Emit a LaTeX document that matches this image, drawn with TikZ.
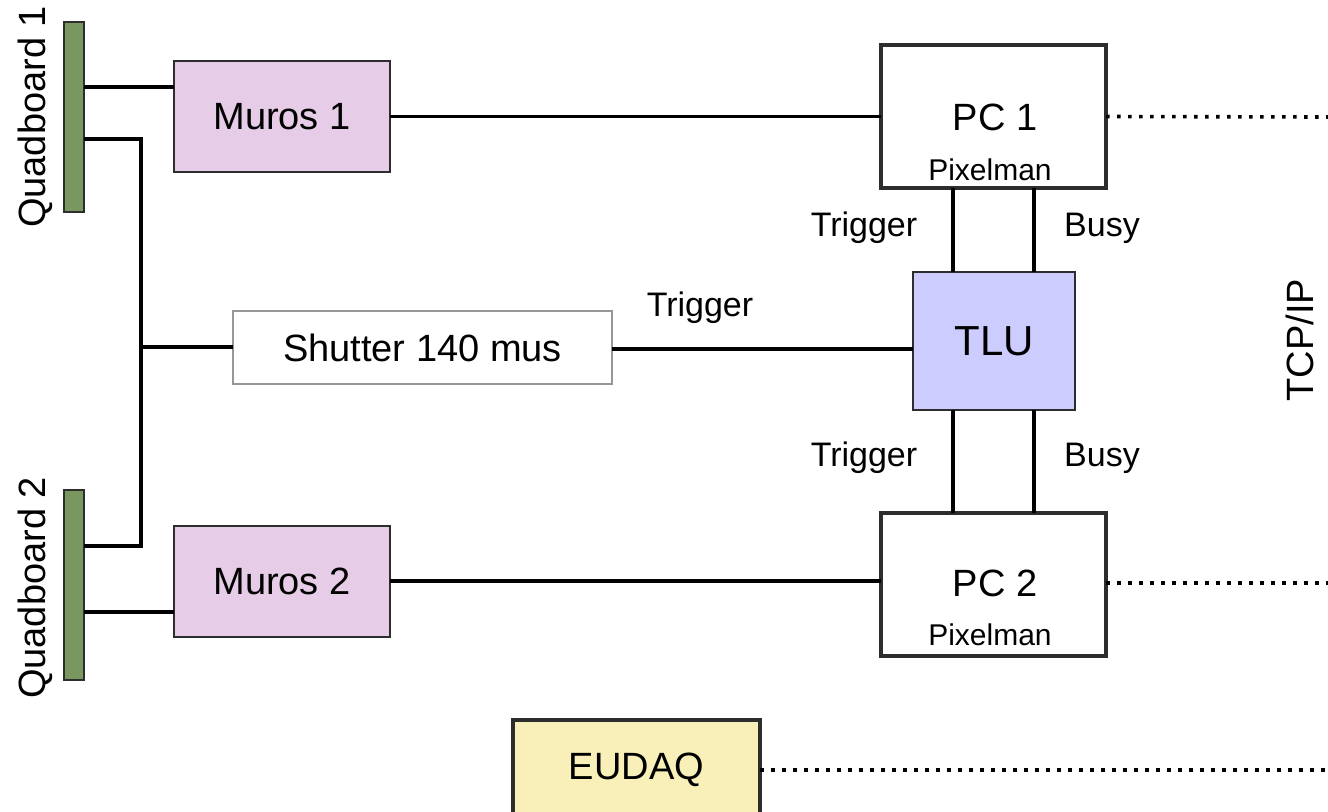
\documentclass[tikz,border=0pt]{standalone}
\usepackage{fontspec}
\setmainfont{Liberation Sans}
\begin{document}
\definecolor{qgreen}{RGB}{120,152,95}
\definecolor{murosfill}{RGB}{230,204,230}
\definecolor{tlufill}{RGB}{204,204,255}
\definecolor{eudaqfill}{RGB}{248,240,184}
\definecolor{dark}{RGB}{45,45,45}
\definecolor{lightborder}{RGB}{150,150,150}
\begin{tikzpicture}[x=0.5pt,y=-0.5pt,
  every node/.style={inner sep=0pt,outer sep=0pt},
  big/.style={font=\fontsize{19}{22}\selectfont},
  lbl/.style={font=\fontsize{17}{20}\selectfont},
  small/.style={font=\fontsize{15}{18}\selectfont},
  qboard/.style={draw=dark,line width=1pt,fill=qgreen,minimum width=10pt,minimum height=95pt},
  murosbox/.style={draw=dark,line width=1pt,fill=murosfill,minimum width=108pt,minimum height=55.5pt,big},
  pcbox/.style={draw=dark,line width=2pt,fill=white,minimum width=112.5pt,minimum height=71.5pt},
  tlubox/.style={draw=dark,line width=1.2pt,fill=tlufill,minimum width=81pt,minimum height=69pt,big,font=\fontsize{21}{24}\selectfont},
  shutterbox/.style={draw=lightborder,line width=0.8pt,fill=white,minimum width=189.5pt,minimum height=36.5pt,big},
  eudaqbox/.style={draw=dark,line width=2pt,fill=eudaqfill,minimum width=123.5pt,minimum height=50pt,big},
  wire/.style={line width=1.7pt,black},
  net/.style={line width=1.8pt,black,dash pattern=on 1.8pt off 3.7pt}
]
\useasboundingbox (0,0) rectangle (1328,811);

% quadboards
\node[qboard] (q1) at (74,117) {};
\node[qboard] (q2) at (74,585) {};
\node[big,rotate=90] (q1l) at (35,117) {Quadboard 1};
\node[big,rotate=90] (q2l) at (35,588) {Quadboard 2};

% boxes
\node[murosbox] (m1) at (282,116.5) {Muros 1};
\node[murosbox] (m2) at (282,581) {Muros 2};
\node[shutterbox] (sh) at (422.5,347.5) {Shutter 140 mus};
\node[tlubox] (tlu) at (994,341) {TLU};
\node[pcbox] (pc1) at (993.5,116.5) {};
\node[pcbox] (pc2) at (993.5,584) {};
\node[big] (pc1t) at (995,117) {PC 1};
\node[big] (pc2t) at (995,583) {PC 2};
\node[small] (pc1s) at (990,170) {Pixelman};
\node[small] (pc2s) at (990,635) {Pixelman};
\node[eudaqbox] (eu) at (636.5,770) {EUDAQ};

% coordinates
\coordinate (j1) at (141,139);
\coordinate (j2) at (141,546);
\coordinate (jsh) at (141,347);
\coordinate (e1) at (1328,117);
\coordinate (e2) at (1328,583);
\coordinate (e3) at (1328,770);

% wires
\draw[wire] (q1.east |- 0,87) -- (m1.west |- 0,87);
\draw[wire] (q1.east |- j1) -- (j1) -- (j2) -- (q2.east |- j2);
\draw[wire] (q2.east |- 0,612) -- (m2.west |- 0,612);
\draw[wire] (jsh) -- (sh.west |- jsh);
\draw[wire] (m1.east) -- (pc1.west);
\draw[wire] (m2.east) -- (pc2.west |- m2.east);
\draw[wire] (sh.east |- 0,349) -- (tlu.west |- 0,349);
\draw[wire] (pc1.south -| 953,0) -- (tlu.north -| 953,0);
\draw[wire] (pc1.south -| 1034,0) -- (tlu.north -| 1034,0);
\draw[wire] (tlu.south -| 953,0) -- (pc2.north -| 953,0);
\draw[wire] (tlu.south -| 1034,0) -- (pc2.north -| 1034,0);

% network
\draw[net] (pc1.east) -- (e1);
\draw[net] (pc2.east |- e2) -- (e2);
\draw[net] (eu.east) -- (e3);

% labels
\node[lbl] (t0) at (700,308) {Trigger};
\node[lbl] (t1) at (864,228) {Trigger};
\node[lbl] (b1) at (1102,228) {Busy};
\node[lbl] (t2) at (864,458) {Trigger};
\node[lbl] (b2) at (1102,458) {Busy};
\node[big,rotate=90] (tcp) at (1300,340) {TCP/IP};
\end{tikzpicture}
\end{document}
